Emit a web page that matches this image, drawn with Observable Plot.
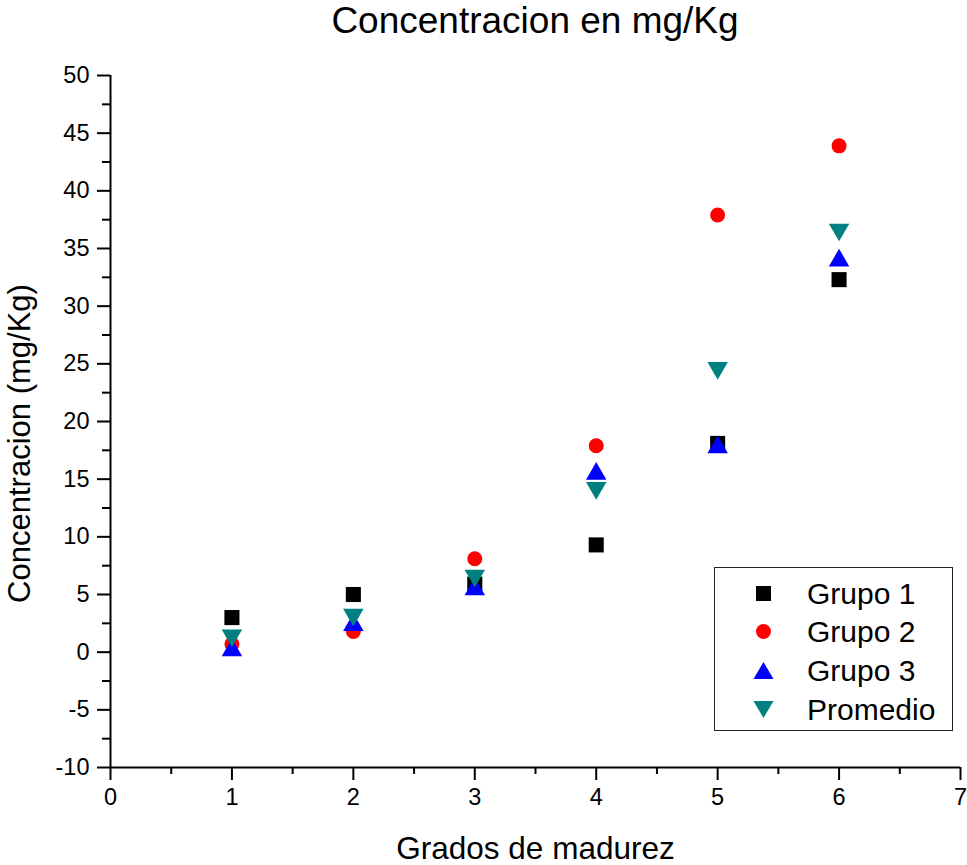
<!DOCTYPE html>
<html>
<head>
<meta charset="utf-8">
<script src="https://cdn.jsdelivr.net/npm/d3@7"></script>
<script src="https://cdn.jsdelivr.net/npm/@observablehq/plot@0.6"></script>
<style>
  html, body { margin: 0; padding: 0; background: #fff; }
  #wrap { position: relative; width: 967px; height: 865px; font-family: "Liberation Sans", Arial, sans-serif; }
  #title { position: absolute; left: 110px; width: 850px; top: 0; height: 50px; text-align: center; font-size: 37px; line-height: 42px; color: #000; }
  #chart { position: absolute; left: 0; top: 50px; }
  #legend { position: absolute; left: 714px; top: 567px; width: 237px; height: 162px; border: 1.5px solid #222; background: #fff; }
  .row { position: absolute; left: 0; height: 39px; width: 237px; }
  .row svg { position: absolute; left: 36px; top: 7px; }
  .row span { position: absolute; left: 92px; top: 0; font-size: 30px; line-height: 39px; color: #000; }
</style>
</head>
<body>
<div id="wrap">
  <div id="title">Concentracion en mg/Kg</div>
  <div id="chart"></div>
  <div id="legend"></div>
</div>
<script>
const grados = [1, 2, 3, 4, 5, 6];
const grupo1 = [3.0, 5.0, 5.9, 9.3, 18.1, 32.3];
const grupo2 = [0.7, 1.8, 8.1, 17.9, 37.9, 43.9];
const grupo3 = [0.4, 2.6, 5.7, 15.7, 18.0, 34.2];
const promedio = [1.2, 3.0, 6.4, 14.0, 24.4, 36.4];
const seriesNames = ["Grupo 1", "Grupo 2", "Grupo 3", "Promedio"];
const seriesColors = ["#000000", "#ff0000", "#0000ff", "#008080"];
const xTicks = [0, 1, 2, 3, 4, 5, 6, 7];
const xMinor = [0.5, 1.5, 2.5, 3.5, 4.5, 5.5, 6.5];
const yTicks = [-10, -5, 0, 5, 10, 15, 20, 25, 30, 35, 40, 45, 50];
const yMinor = [-7.5, -2.5, 2.5, 7.5, 12.5, 17.5, 22.5, 27.5, 32.5, 37.5, 42.5, 47.5];
const xLabel = "Grados de madurez";
const yLabel = "Concentracion (mg/Kg)";

const mk = (vals) => grados.map((g, i) => ({x: g, y: vals[i]}));
const d1 = mk(grupo1), d2 = mk(grupo2), d3s = mk(grupo3), d4 = mk(promedio);

const font = "Liberation Sans, Arial, sans-serif";
const chart = Plot.plot({
  width: 967,
  height: 815,
  marginTop: 25,
  marginLeft: 110,
  marginRight: 7,
  marginBottom: 98,
  style: {fontFamily: font, background: "#fff", color: "#000"},
  x: {domain: [0, 7]},
  y: {domain: [-10, 50]},
  marks: [
    Plot.axisX({ticks: xMinor, tickSize: 7, text: null, strokeWidth: 2, label: null}),
    Plot.axisX({ticks: xTicks, tickSize: 13, tickPadding: 8, strokeWidth: 2, fontSize: 23.5, tickFormat: d => String(d), label: null}),
    Plot.axisY({ticks: yMinor, tickSize: 8, text: null, strokeWidth: 2, label: null}),
    Plot.axisY({ticks: yTicks, tickSize: 13, tickPadding: 8, strokeWidth: 2, fontSize: 23.5, tickFormat: d => String(d), label: null}),
    Plot.ruleY([-10], {strokeWidth: 2}),
    Plot.ruleX([0], {strokeWidth: 2}),
    Plot.text([xLabel], {frameAnchor: "bottom", dy: 81, fontSize: 31.5, lineAnchor: "middle"}),
    Plot.text([yLabel], {frameAnchor: "left", dx: -90, dy: 22, rotate: -90, fontSize: 31, lineAnchor: "middle", textAnchor: "middle"}),
    Plot.dot(d1, {x: "x", y: "y", symbol: "square", r: 8.5, fill: seriesColors[0], stroke: "none"}),
    Plot.dot(d2, {x: "x", y: "y", symbol: "circle", r: 7.5, fill: seriesColors[1], stroke: "none"}),
    Plot.dot(d3s, {x: "x", y: "y", symbol: "triangle", r: 7.6, dy: 2.8, fill: seriesColors[2], stroke: "none"}),
    Plot.dot(d4, {x: "x", y: "y", symbol: "triangle", r: 7.6, rotate: 180, dy: -2.8, fill: seriesColors[3], stroke: "none"})
  ]
});
document.getElementById("chart").appendChild(chart);

// legend
const shapes = [
  '<rect x="5" y="5" width="15" height="15" fill="#000"/>',
  '<circle cx="12.5" cy="12.5" r="7.5" fill="#ff0000"/>',
  '<polygon points="2.5,21 22.5,21 12.5,4" fill="#0000ff"/>',
  '<polygon points="2.5,4 22.5,4 12.5,21" fill="#008080"/>'
];
const leg = document.getElementById("legend");
const rowTops = [6, 44, 83, 122];
seriesNames.forEach((n, i) => {
  const r = document.createElement("div");
  r.className = "row";
  r.style.top = rowTops[i] + "px";
  r.innerHTML = `<svg width="25" height="25">${shapes[i]}</svg><span>${n}</span>`;
  leg.appendChild(r);
});
</script>
</body>
</html>
